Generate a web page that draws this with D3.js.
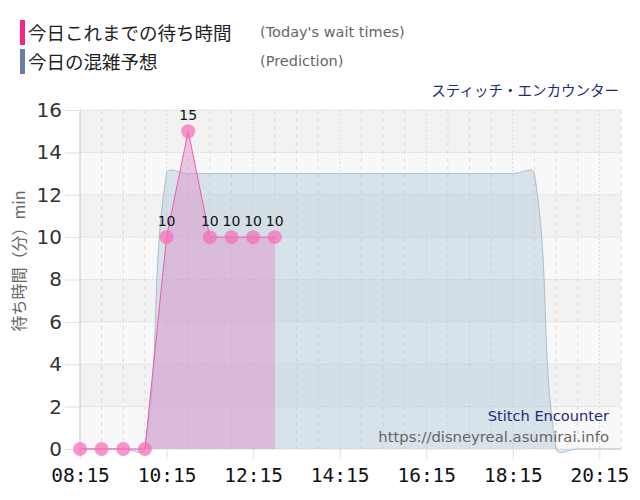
<!DOCTYPE html>
<html>
<head>
<meta charset="utf-8">
<script src="https://cdn.jsdelivr.net/npm/d3@7"></script>
<style>
  body { margin: 0; background: #fff; }
  svg { display: block; }
</style>
</head>
<body>
<div id="chart"></div>
<script>
// data
const tickLabels = ["08:15", "10:15", "12:15", "14:15", "16:15", "18:15", "20:15"]
const yTicks = [0, 2, 4, 6, 8, 10, 12, 14, 16]

const waitTimes = ["08:15", "08:45", "09:15", "09:45", "10:15", "10:45", "11:15", "11:45", "12:15", "12:45"]
const waitValues = [0, 0, 0, 0, 10, 15, 10, 10, 10, 10]

const predTimes = ["08:15", "08:45", "09:15", "09:45", "10:15", "10:45", "11:15", "11:45", "12:15", "12:45",
	"13:15", "13:45", "14:15", "14:45", "15:15", "15:45", "16:15", "16:45", "17:15", "17:45",
	"18:15", "18:45", "19:15", "19:45", "20:15", "20:45"]
const predValues = [0, 0, 0, 0, 13, 13, 13, 13, 13, 13,
	13, 13, 13, 13, 13, 13, 13, 13, 13, 13,
	13, 13, 0, 0, 0, 0]

const legendItems = [
	{ label: "今日これまでの待ち時間", sub: "(Today's wait times)", color: "#f0268c" },
	{ label: "今日の混雑予想", sub: "(Prediction)", color: "#6a7ea8" }
]

const toMin = s => { let p = s.split(':'); return +p[0] * 60 + +p[1] }

let width = 640
let height = 500
let margin = { top: 110, right: 19, bottom: 51, left: 80 }

const x = d3.scaleLinear()
	.domain([toMin("08:15"), toMin("20:45")])
	.range([margin.left, width - margin.right])

const y = d3.scaleLinear()
	.domain([0, 16])
	.range([height - margin.bottom, margin.top])

const svg = d3.select('#chart')
	.append('svg')
	.attr('width', width)
	.attr('height', height)

// chart.js like spline (tension 0.4)
function splinePath(pts, t, closeTo){
	let cps = pts.map(function(cur, i){
		let prev = pts[i - 1] || cur
		let next = pts[i + 1] || cur
		let d01 = Math.hypot(cur[0] - prev[0], cur[1] - prev[1])
		let d12 = Math.hypot(next[0] - cur[0], next[1] - cur[1])
		let s01 = d01 / (d01 + d12) || 0
		let s12 = d12 / (d01 + d12) || 0
		let fa = t * s01, fb = t * s12
		return {
			prev: [cur[0] - fa * (next[0] - prev[0]), cur[1] - fa * (next[1] - prev[1])],
			next: [cur[0] + fb * (next[0] - prev[0]), cur[1] + fb * (next[1] - prev[1])]
		}
	})
	let p = d3.path()
	p.moveTo(pts[0][0], pts[0][1])
	for (let i = 1; i < pts.length; i++){
		p.bezierCurveTo(cps[i - 1].next[0], cps[i - 1].next[1], cps[i].prev[0], cps[i].prev[1], pts[i][0], pts[i][1])
	}
	if (closeTo != undefined){
		p.lineTo(pts[pts.length - 1][0], closeTo)
		p.lineTo(pts[0][0], closeTo)
		p.closePath()
	}
	return p.toString()
}

// background bands
const bands = d3.range(0, 16, 2)
svg.append('g').selectAll('rect')
	.data(bands)
	.enter()
	.append('rect')
	.attr('x', margin.left)
	.attr('y', d => y(d + 2))
	.attr('width', x.range()[1] - margin.left)
	.attr('height', d => y(d) - y(d + 2))
	.attr('fill', d => (d / 2) % 2 == 1 ? '#f2f2f2' : '#f8f8f8')

// vertical grid every 30 min
const gridMins = d3.range(toMin("08:45"), toMin("20:45") + 1, 30)
svg.append('g').selectAll('line')
	.data(gridMins)
	.enter()
	.append('line')
	.attr('x1', d => x(d)).attr('x2', d => x(d))
	.attr('y1', y(16)).attr('y2', y(0))
	.attr('stroke', '#dcdcdc')
	.attr('stroke-dasharray', d => (d - toMin("08:15")) % 120 == 0 ? '2,2' : '4,4')

// horizontal grid
svg.append('g').selectAll('line')
	.data(yTicks)
	.enter()
	.append('line')
	.attr('x1', margin.left).attr('x2', x.range()[1])
	.attr('y1', d => y(d)).attr('y2', d => y(d))
	.attr('stroke', '#dadada')
	.attr('stroke-dasharray', '2,1')

// prediction area
const predPts = predTimes.map((d, i) => [x(toMin(d)), y(predValues[i])])
svg.append('path')
	.attr('d', splinePath(predPts, 0.4, y(0)))
	.attr('fill', 'rgba(170,195,215,0.42)')
	.attr('stroke', 'none')
svg.append('path')
	.attr('d', splinePath(predPts, 0.4))
	.attr('fill', 'none')
	.attr('stroke', '#aebfcc')
	.attr('stroke-width', 1)

// wait time area (straight segments)
const waitPts = waitTimes.map((d, i) => [x(toMin(d)), y(waitValues[i])])
svg.append('path')
	.attr('d', splinePath(waitPts, 0, y(0)))
	.attr('fill', 'rgba(222,148,204,0.5)')
svg.append('path')
	.attr('d', splinePath(waitPts, 0))
	.attr('fill', 'none')
	.attr('stroke', '#ec5aa8')
	.attr('stroke-width', 1)

// axes
const yAxis = g => g
	.attr('transform', `translate(${margin.left},0)`)
	.call(d3.axisLeft(y).tickValues(yTicks).tickSize(15).tickPadding(3))
	.call(g => g.select('.domain').attr('stroke', '#c4c4c4').attr('d', `M0,${y(16)}V${y(0) + 4}`))
	.call(g => g.selectAll('.tick line').attr('stroke', '#e0e0e0'))
	.call(g => g.selectAll('.tick text')
		.attr('fill', '#333')
		.style('font-family', '"DejaVu Sans", Verdana, sans-serif')
		.style('font-size', '20px'))

const xAxis = g => g
	.attr('transform', `translate(0,${y(0)})`)
	.call(d3.axisBottom(x).tickValues(tickLabels.map(toMin)).tickSize(10).tickPadding(9)
		.tickFormat((d, i) => tickLabels[i]))
	.call(g => g.select('.domain').remove())
	.call(g => g.selectAll('.tick line').attr('stroke', '#e0e0e0'))
	.call(g => g.selectAll('.tick text')
		.attr('fill', '#111')
		.style('font-family', '"DejaVu Sans Mono", monospace')
		.style('font-size', '19.5px'))

svg.append('g').call(yAxis)
svg.append('g').call(xAxis)

// wait time points + labels
svg.append('g').selectAll('circle')
	.data(waitPts)
	.enter()
	.append('circle')
	.attr('cx', d => d[0])
	.attr('cy', d => d[1])
	.attr('r', 7)
	.attr('fill', 'rgba(245,110,185,0.72)')

svg.append('g').selectAll('text')
	.data(waitTimes.filter((d, i) => waitValues[i] > 0))
	.enter()
	.append('text')
	.attr('x', d => x(toMin(d)))
	.attr('y', d => y(waitValues[waitTimes.indexOf(d)]) - 11)
	.attr('text-anchor', 'middle')
	.style('font-family', '"DejaVu Sans", Verdana, sans-serif')
	.style('font-size', '14px')
	.attr('fill', '#111')
	.text(d => waitValues[waitTimes.indexOf(d)])

// y axis title
svg.append('text')
	.attr('transform', 'translate(18,261) rotate(-90)')
	.attr('text-anchor', 'middle')
	.attr('dominant-baseline', 'central')
	.style('font-family', '"Noto Sans CJK JP", sans-serif')
	.style('font-size', '16px')
	.attr('fill', '#666')
	.text('待ち時間（分）min')

// legend
let legend = svg.append('g').selectAll('g')
	.data(legendItems)
	.enter()
	.append('g')
	.attr('transform', (d, i) => `translate(20,${20 + i * 29})`)

legend.append('rect')
	.attr('width', 5).attr('height', 25)
	.attr('fill', d => d.color)

legend.append('text')
	.attr('x', 8).attr('y', 20)
	.style('font-family', '"Noto Sans CJK JP", sans-serif')
	.style('font-size', '18.5px')
	.attr('fill', '#222')
	.text(d => d.label)

legend.append('text')
	.attr('x', 240).attr('y', 17)
	.style('font-family', '"DejaVu Sans", Verdana, sans-serif')
	.style('font-size', '14.5px')
	.attr('fill', '#666')
	.text(d => d.sub)

svg.append('text')
	.attr('x', 619).attr('y', 96)
	.attr('text-anchor', 'end')
	.style('font-family', '"Noto Sans CJK JP", sans-serif')
	.style('font-size', '14.5px')
	.attr('fill', '#1f2a78')
	.text('スティッチ・エンカウンター')

svg.append('text')
	.attr('x', 609).attr('y', 421)
	.attr('text-anchor', 'end')
	.style('font-family', '"DejaVu Sans", Verdana, sans-serif')
	.style('font-size', '14.6px')
	.attr('fill', '#1f2a78')
	.text('Stitch Encounter')

svg.append('text')
	.attr('x', 609).attr('y', 442)
	.attr('text-anchor', 'end')
	.style('font-family', '"DejaVu Sans", Verdana, sans-serif')
	.style('font-size', '14.8px')
	.attr('fill', '#666')
	.text('https://disneyreal.asumirai.info')
</script>
</body>
</html>
